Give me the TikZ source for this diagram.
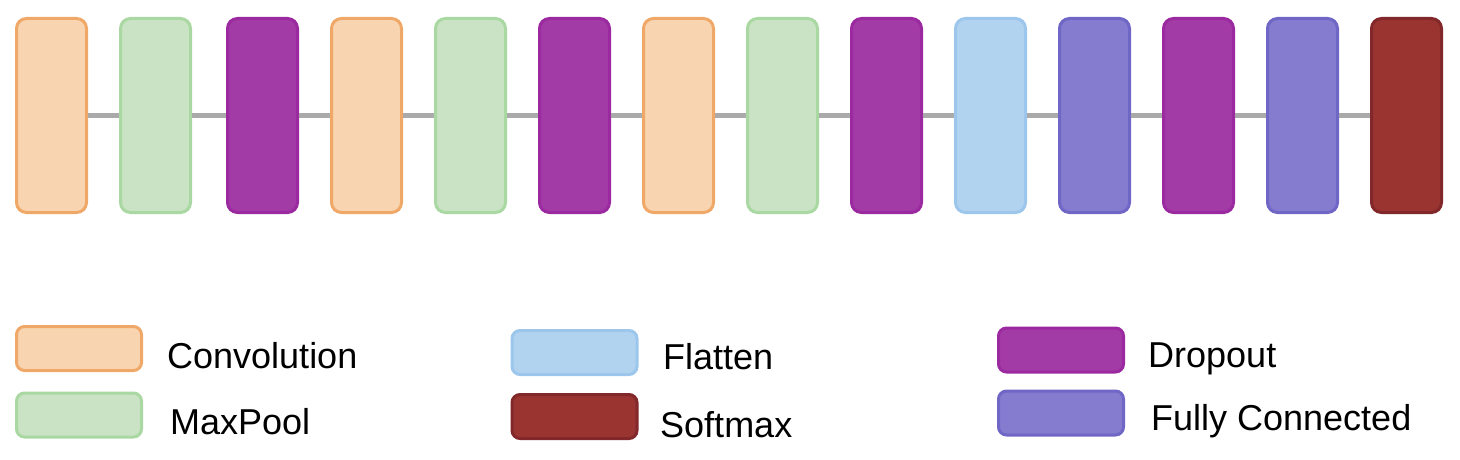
\documentclass[tikz,border=0pt]{standalone}
\usepackage{fontspec}
\setmainfont{Liberation Sans}
\definecolor{convF}{HTML}{F8D5B0}\definecolor{convD}{HTML}{EFA868}
\definecolor{poolF}{HTML}{C9E3C4}\definecolor{poolD}{HTML}{AAD8A2}
\definecolor{dropF}{HTML}{A33BA6}\definecolor{dropD}{HTML}{9B2AA0}
\definecolor{flatF}{HTML}{B1D3EF}\definecolor{flatD}{HTML}{9DC6EC}
\definecolor{fcF}{HTML}{857CD0}\definecolor{fcD}{HTML}{6F66C6}
\definecolor{softF}{HTML}{993431}\definecolor{softD}{HTML}{82282A}
\definecolor{linkC}{HTML}{AAAAAA}
\begin{document}
\begin{tikzpicture}[x=1pt,y=-1pt,
  layer/.style={rectangle,rounded corners=10pt,line width=3pt,minimum width=70pt,minimum height=194pt,inner sep=0pt},
  legbox/.style={rectangle,rounded corners=8pt,line width=3pt,minimum width=125pt,minimum height=44pt,inner sep=0pt},
  conv/.style={fill=convF,draw=convD},
  pool/.style={fill=poolF,draw=poolD},
  drop/.style={fill=dropF,draw=dropD},
  flat/.style={fill=flatF,draw=flatD},
  fc/.style={fill=fcF,draw=fcD},
  soft/.style={fill=softF,draw=softD},
  legtext/.style={anchor=base west,inner sep=0pt,font=\fontsize{36}{40}\selectfont},
  link/.style={draw=linkC,line width=4.8pt}]
\useasboundingbox (0,0) rectangle (1460,460);
\node[layer,conv] (l1) at (51.5,115.5) {};
\node[layer,pool] (l2) at (155.5,115.5) {};
\node[layer,drop] (l3) at (262.5,115.5) {};
\node[layer,conv] (l4) at (366.5,115.5) {};
\node[layer,pool] (l5) at (470.5,115.5) {};
\node[layer,drop] (l6) at (574.5,115.5) {};
\node[layer,conv] (l7) at (678.5,115.5) {};
\node[layer,pool] (l8) at (782.5,115.5) {};
\node[layer,drop] (l9) at (886.5,115.5) {};
\node[layer,flat] (l10) at (990.5,115.5) {};
\node[layer,fc] (l11) at (1094.5,115.5) {};
\node[layer,drop] (l12) at (1198.5,115.5) {};
\node[layer,fc] (l13) at (1302.5,115.5) {};
\node[layer,soft] (l14) at (1406.5,115.5) {};
\foreach \a/\b in {l1/l2,l2/l3,l3/l4,l4/l5,l5/l6,l6/l7,l7/l8,l8/l9,l9/l10,l10/l11,l11/l12,l12/l13,l13/l14}
  \draw[link] (\a.east) -- (\b.west);
% legend
\node[legbox,conv] (kconv) at (79,348.5) {};
\node[legbox,pool] (kpool) at (79,415) {};
\node[legbox,flat] (kflat) at (574.5,352.5) {};
\node[legbox,soft] (ksoft) at (574.5,416.5) {};
\node[legbox,drop] (kdrop) at (1061,350) {};
\node[legbox,fc] (kfc) at (1061,413) {};
\node[legtext] (tconv) at (167,368) {Convolution};
\node[legtext] (tpool) at (170,434) {MaxPool};
\node[legtext] (tflat) at (663,369) {Flatten};
\node[legtext] (tsoft) at (660,437) {Softmax};
\node[legtext] (tdrop) at (1148,367) {Dropout};
\node[legtext] (tfc) at (1151,430) {Fully Connected};
\end{tikzpicture}
\end{document}
